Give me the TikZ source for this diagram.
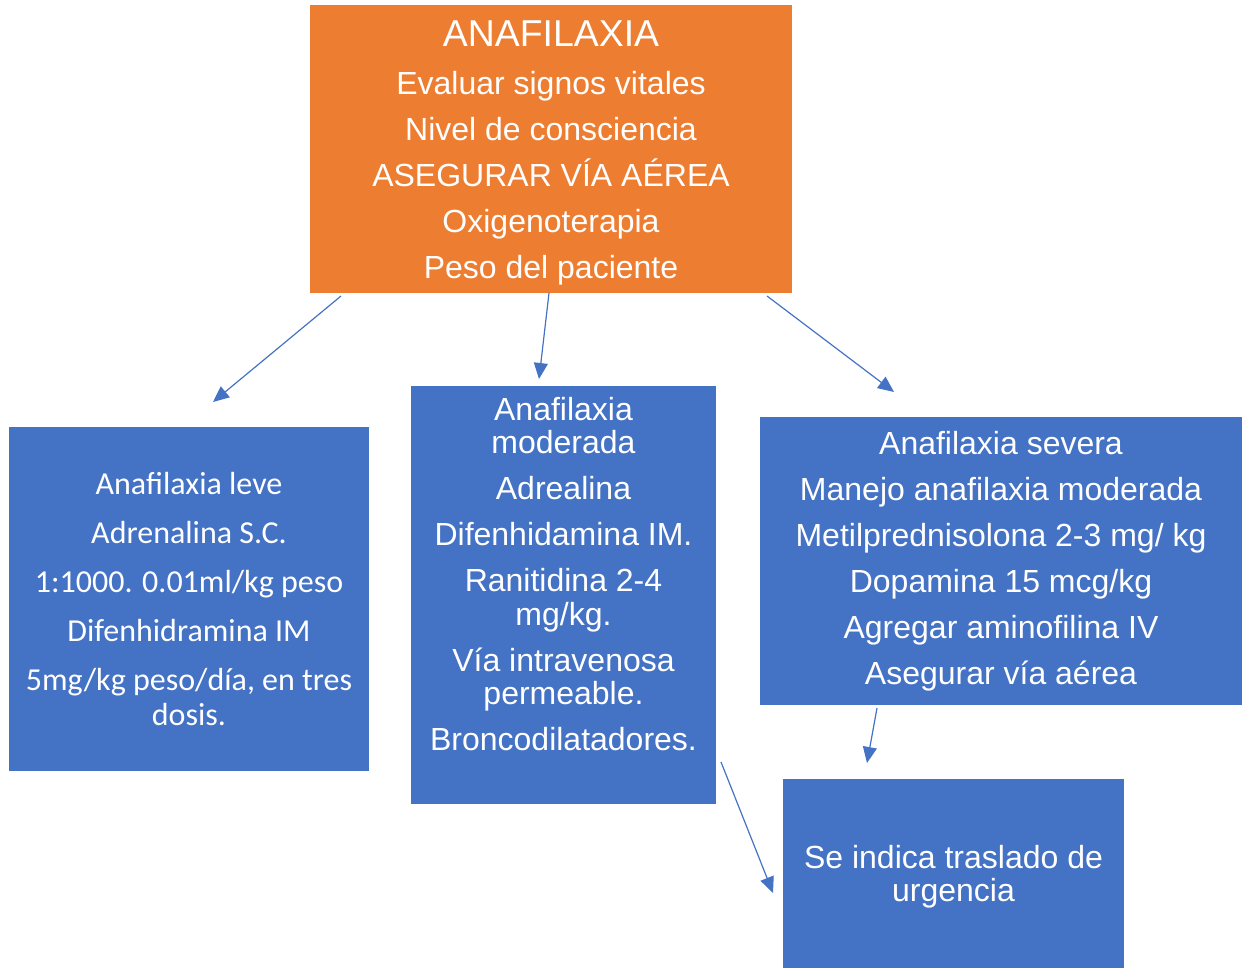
\documentclass[tikz,border=0pt]{standalone}
\usepackage{fontspec}
\setmainfont{Liberation Sans}
\newfontfamily\calibrifont{Carlito}
\usetikzlibrary{arrows.meta}
\definecolor{naranja}{HTML}{ED7D31}
\definecolor{azul}{HTML}{4472C4}
\tikzset{
	box/.style = {
		rectangle,
		inner sep=0pt,
		align=center,
		text=white,
		font=\fontsize{16}{16.6}\selectfont
	},
	box_orange/.style = {
		box,
		fill=naranja
	},
	box_blue/.style = {
		box,
		fill=azul
	},
	box_leve/.style = {
		box_blue,
		font=\calibrifont\fontsize{16}{17.5}\selectfont
	},
	flecha/.style = {
		draw=azul,
		line width=0.6pt
	}
}

\begin{document}
\begin{tikzpicture}[x=0.5pt,y=-0.5pt,->,>={Triangle[length=8pt,width=7pt]}]
\useasboundingbox (0,0) rectangle (1246,968);
% main box
\node [box_orange, minimum width=241pt, minimum height=144pt] (anafilaxia) at (551,149) {};
\node [box] (anafilaxia_txt) at (551,153) {
	{\fontsize{18.7}{19.5}\selectfont ANAFILAXIA}\\[7.4pt]
	Evaluar signos vitales\\[6.4pt]
	Nivel de consciencia\\[6.4pt]
	ASEGURAR VÍA AÉREA\\[6.4pt]
	Oxigenoterapia\\[6.4pt]
	Peso del paciente
};
% three levels
\node [box_leve, minimum width=180pt, minimum height=172pt] (leve) at (189,599) {
	Anafilaxia leve\\[7pt]
	Adrenalina S.C.\\[7pt]
	1:1000. 0.01ml/kg peso\\[7pt]
	Difenhidramina IM\\[7pt]
	5mg/kg peso/día, en tres\\
	dosis.
};
\node [box_blue, minimum width=152.5pt, minimum height=209pt] (moderada) at (563.5,595) {};
\node [box] (moderada_txt) at (563.5,574) {
	Anafilaxia\\
	moderada\\[6.4pt]
	Adrealina\\[6.4pt]
	Difenhidamina IM.\\[6.4pt]
	Ranitidina 2-4\\
	mg/kg.\\[6.4pt]
	Vía intravenosa\\
	permeable.\\[6.4pt]
	Broncodilatadores.
};
\node [box_blue, minimum width=241pt, minimum height=144pt] (severa) at (1001,561) {
	Anafilaxia severa\\[6.4pt]
	Manejo anafilaxia moderada\\[6.4pt]
	Metilprednisolona 2-3 mg/ kg\\[6.4pt]
	Dopamina 15 mcg/kg\\[6.4pt]
	Agregar aminofilina IV\\[6.4pt]
	Asegurar vía aérea
};
\node [box_blue, minimum width=170.5pt, minimum height=94.5pt] (traslado) at (953.5,873.5) {};
\node [box] (traslado_txt) at (953.5,876.5) {
	Se indica traslado de\\
	urgencia
};
% arrow ends
\coordinate (a_leve_1) at (341,296);
\coordinate (a_leve_2) at (213,402);
\coordinate (a_mod_1) at (549,293);
\coordinate (a_mod_2) at (539,379);
\coordinate (a_sev_1) at (767,296);
\coordinate (a_sev_2) at (894,392);
\coordinate (a_tras_1) at (877,708);
\coordinate (a_tras_2) at (867,763);
\coordinate (a_tras_3) at (721,762);
\coordinate (a_tras_4) at (773,893);
\draw [flecha] (a_leve_1) -- (a_leve_2);
\draw [flecha] (a_mod_1) -- (a_mod_2);
\draw [flecha] (a_sev_1) -- (a_sev_2);
\draw [flecha] (a_tras_1) -- (a_tras_2);
\draw [flecha] (a_tras_3) -- (a_tras_4);
\end{tikzpicture}
\end{document}
